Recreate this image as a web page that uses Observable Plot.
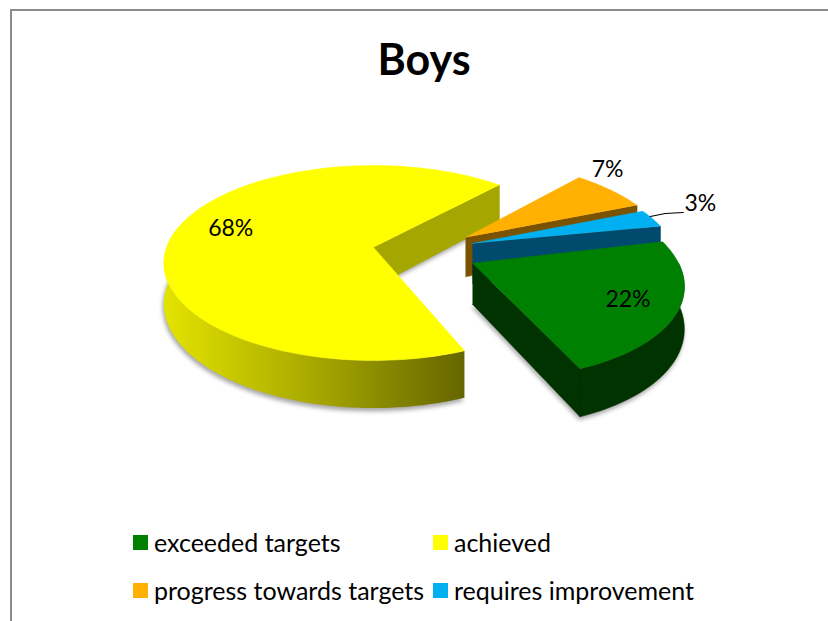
<!DOCTYPE html>
<html><head><meta charset="utf-8">
<script src="https://cdn.jsdelivr.net/npm/d3@7"></script>
<script src="https://cdn.jsdelivr.net/npm/@observablehq/plot@0.6"></script>
<style>
html,body{margin:0;padding:0;background:#fff;overflow:hidden}
#page{position:relative;width:828px;height:621px;font-family:Lato,"Open Sans",sans-serif;color:#000;overflow:hidden}
#frame{position:absolute;left:10px;top:9px;width:830px;height:630px;border-left:2px solid #8c8c8c;border-top:2px solid #8c8c8c}
#title{position:absolute;left:0;width:848px;top:35px;margin:0;text-align:center;font-size:43px;font-weight:700;line-height:48px}
#chart{position:absolute;left:0;top:100px}
.lg{position:absolute;font-size:25px;line-height:30px;white-space:nowrap}
.lg i{position:absolute;left:-21px;top:8px;width:15px;height:15px}
</style></head><body>
<div id="page">
  <div id="frame"></div>
  <h1 id="title"></h1>
  <div id="chart"></div>
  <div id="legend"></div>
</div>
<script>
const chartTitle = "Boys";
const categories = ["exceeded targets", "achieved", "progress towards targets", "requires improvement"];
const values = [22, 68, 7, 3];
const labels = ["22%", "68%", "7%", "3%"];
const colors = ["#008000", "#ffff00", "#ffb000", "#00b0f0"];
const wallColors = ["#003300", "#a6a600", "#7a5200", "#004a6e"];

// view model of the tilted disc (perspective, explosion of each slice)
const view = {x0: 373, y0: 247, A: 207, B: 95, C: 40, k: 0.159, start: 78.8};
const explode = [[0.466, 0.161], [0, 0], [0.452, -0.107], [0.481, -0.042]];
const radius = [0.97, 1, 0.99, 0.975];
const startPad = [-2, 0, 0, 0];
const labelAt = [[0.72, 11, 2], [0.68, -7, -7], [1.0, -3, -20], [1.0, 48, -15]];
const drawOrder = [1, 2, 3, 0];

const project = (X, Y, Z = 0) => {
  const w = 1 - view.k * Y;
  return {x: view.x0 + view.A * X / w, y: view.y0 + (view.B * Y + view.C * Z) / w};
};
let cum = view.start;
const slices = values.map((v, i) => {
  const a0 = cum + startPad[i], a1 = cum + v * 3.6; cum = a1;
  return {i, a0, a1, mid: (a0 + a1) / 2, ex: explode[i][0], ey: explode[i][1], r: radius[i]};
});
const rad = Math.PI / 180;
const rimPt = (s, a, Z = 0, f = 1) => project(f * s.r * Math.sin(a * rad) + s.ex, -f * s.r * Math.cos(a * rad) + s.ey, Z);
const apex = (s, Z = 0) => project(s.ex, s.ey, Z);
const rim = (s, from, to, Z = 0) => {
  const n = Math.max(2, Math.ceil(Math.abs(to - from) / 1.5));
  return d3.range(n + 1).map(j => rimPt(s, from + (to - from) * j / n, Z));
};
const topFace = s => [apex(s), ...rim(s, s.a0, s.a1)];
const bottomFace = s => [apex(s, 1), ...rim(s, s.a0, s.a1, 1)];
const edgeWall = (s, a) => [apex(s), rimPt(s, a), rimPt(s, a, 1), apex(s, 1)];
const outerWall = (s, from, to) => [...rim(s, from, to), ...rim(s, to, from, 1)];

const fillPoly = (pts, fill, extra = {}) =>
  Plot.line(pts, {x: "x", y: "y", fill, stroke: fill, strokeWidth: 0.5, curve: "linear", ...extra});

const marks = [];
const yellowRimGrad = (index, scales) => {
  const defs = d3.create("svg:defs");
  const g = defs.append("linearGradient").attr("id", "rimGrad").attr("gradientUnits", "userSpaceOnUse")
    .attr("x1", scales.x(162)).attr("x2", scales.x(463)).attr("y1", 0).attr("y2", 0);
  [[0, "#e4e400"], [0.5, "#a8a800"], [1, "#666600"]].forEach(([o, c]) =>
    g.append("stop").attr("offset", o).attr("stop-color", c));
  return defs.node();
};
marks.push(yellowRimGrad);

// soft shadows under the bottom faces
[slices[1], slices[0]].forEach(s => {
  marks.push(fillPoly(bottomFace(s), "#8a8a8a", {dx: -1, dy: 3, imageFilter: "blur(2px)", opacity: 0.75}));
});

drawOrder.forEach(i => {
  const s = slices[i];
  marks.push(fillPoly(edgeWall(s, s.a1), wallColors[i]));
  if (i === 1) marks.push(fillPoly(outerWall(s, s.a0, 282), "url(#rimGrad)", {stroke: "none"}));
  if (i === 0) marks.push(fillPoly(outerWall(s, 90, s.a1), wallColors[i]));
  marks.push(fillPoly(topFace(s), colors[i]));
});

// leader line of the smallest slice
const blue = slices[3];
const lead = rimPt(blue, blue.mid);
marks.push(Plot.line([
  {x: lead.x - 2, y: lead.y - 2},
  {x: lead.x + 13, y: lead.y - 5},
  {x: lead.x + 31, y: lead.y - 6}
], {x: "x", y: "y", stroke: "#000", strokeWidth: 1.2, curve: "linear"}));

const labelRows = slices.map(s => {
  const [f, dx, dy] = labelAt[s.i];
  const p = rimPt(s, s.mid, 0, f);
  return {x: p.x + dx, y: p.y + dy, text: labels[s.i]};
});
marks.push(Plot.text(labelRows, {x: "x", y: "y", text: "text", fontSize: 23, fill: "#000", fontFamily: "Lato, 'Open Sans', sans-serif"}));

const plot = Plot.plot({
  width: 828, height: 420,
  marginTop: 0, marginRight: 0, marginBottom: 0, marginLeft: 0,
  x: {domain: [0, 828], range: [0, 828], axis: null},
  y: {domain: [100, 520], range: [0, 420], axis: null},
  style: {background: "transparent", overflow: "visible"},
  marks
});
document.getElementById("chart").append(plot);
document.getElementById("title").textContent = chartTitle;

const legendSlots = [[154, 527], [454, 527], [154, 575], [454, 575]];
const legend = document.getElementById("legend");
categories.forEach((c, i) => {
  const el = document.createElement("div");
  el.className = "lg";
  el.style.left = legendSlots[i][0] + "px";
  el.style.top = legendSlots[i][1] + "px";
  const sw = document.createElement("i");
  sw.style.background = colors[i];
  el.append(sw, c);
  legend.append(el);
});
</script>
</body></html>
